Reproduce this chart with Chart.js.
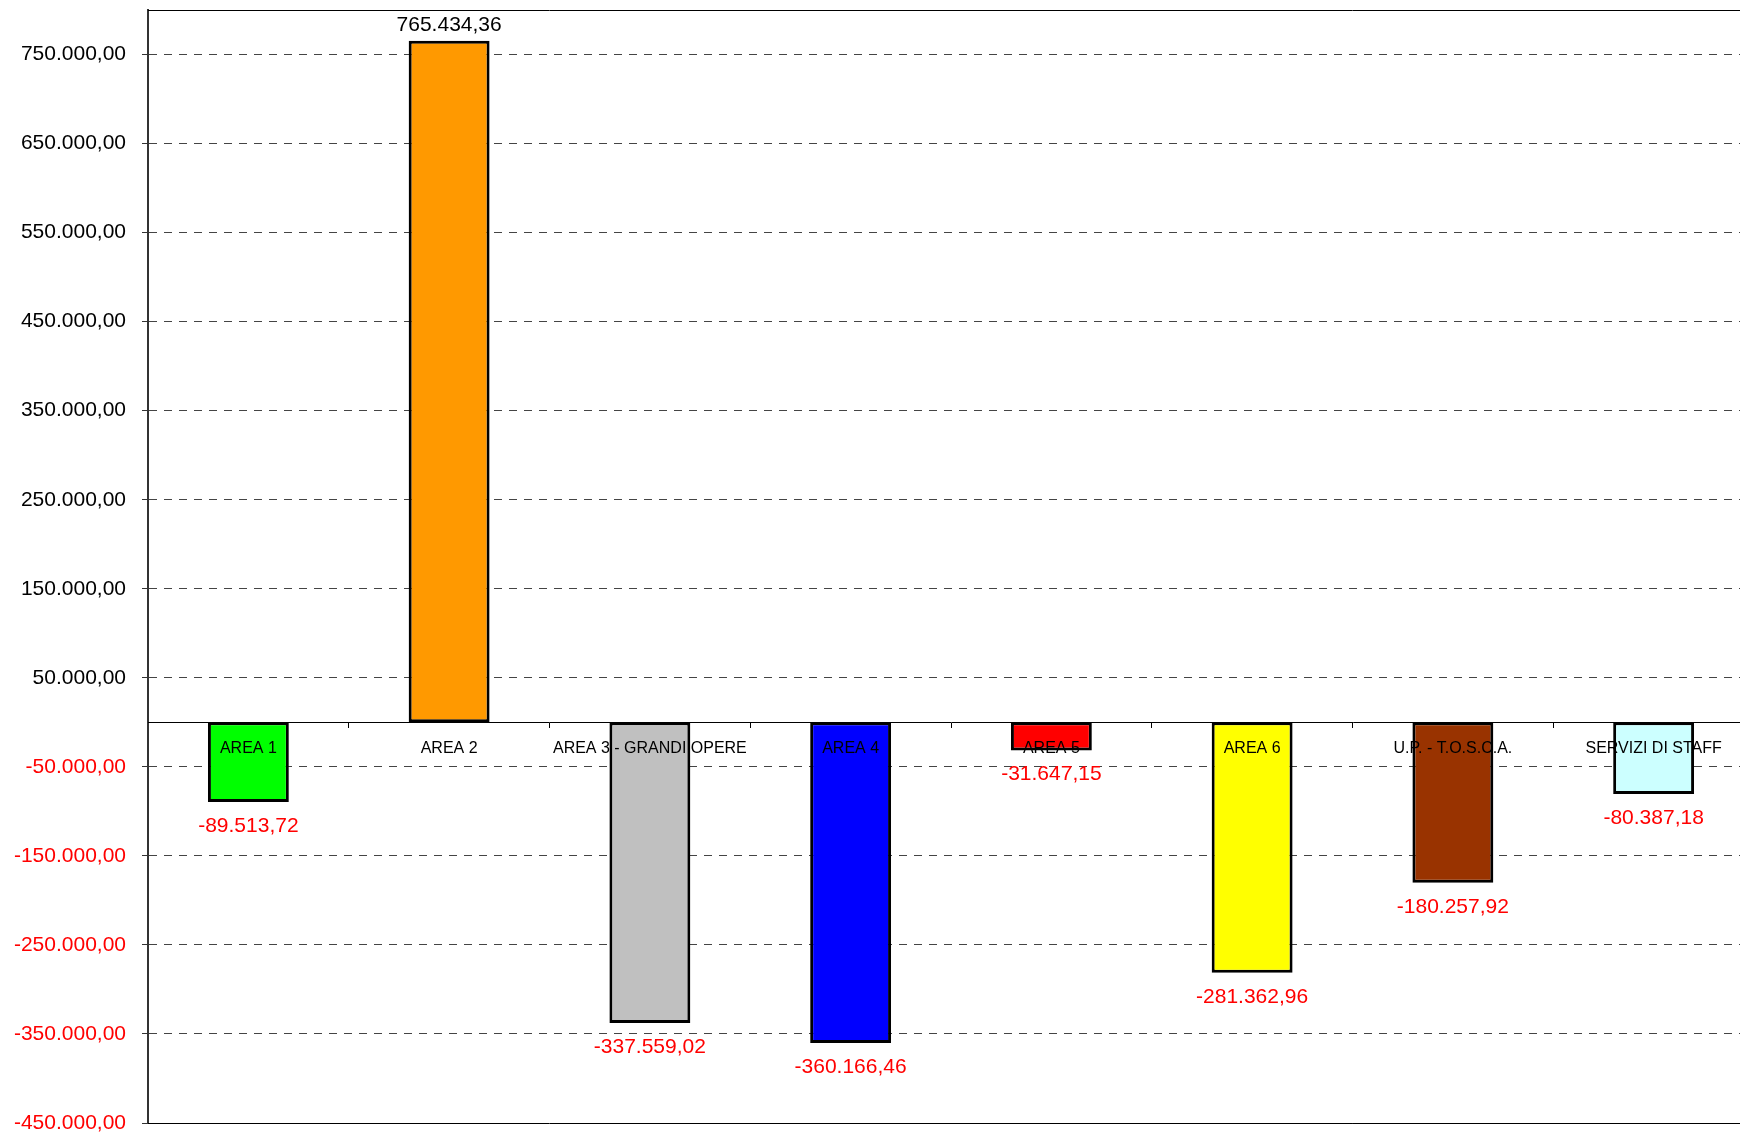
<!DOCTYPE html>
<html>
<head>
<meta charset="utf-8">
<title>Scostamenti per area</title>
<script src="https://cdn.jsdelivr.net/npm/chart.js@4/dist/chart.umd.min.js"></script>
<style>
    html, body { margin: 0; padding: 0; background: #fff; overflow: hidden; }
    #contenitore { width: 1754px; height: 1133px; }
</style>
</head>
<body>
<div id="contenitore"><canvas id="graficoAree" width="1754" height="1133"></canvas></div>
<script>
// dati
const categorie = ['AREA 1', 'AREA 2', 'AREA 3 - GRANDI OPERE', 'AREA 4', 'AREA 5', 'AREA 6', 'U.P. - T.O.S.C.A.', 'SERVIZI DI STAFF'];
const valori = [-89513.72, 765434.36, -337559.02, -360166.46, -31647.15, -281362.96, -180257.92, -80387.18];
const coloriBarre = ['#00ff00', '#ff9900', '#c0c0c0', '#0000ff', '#ff0000', '#ffff00', '#993300', '#ccffff'];
const tickAsseY = [750000, 650000, 550000, 450000, 350000, 250000, 150000, 50000, -50000, -150000, -250000, -350000, -450000];

const FONT = '"Liberation Sans", Arial, Helvetica, sans-serif';

// formato italiano: 765.434,36
function formatoIt(v) {
    const parti = Math.abs(v).toFixed(2).split('.');
    const intero = parti[0].replace(/\B(?=(\d{3})+(?!\d))/g, '.');
    return (v < 0 ? '-' : '') + intero + ',' + parti[1];
}

// cornice sopra e sotto l'area del grafico
const cornice = {
    id: 'cornice',
    beforeDatasetsDraw(chart) {
        const { ctx, chartArea } = chart;
        ctx.save();
        ctx.strokeStyle = '#000';
        ctx.lineWidth = 1;
        ctx.beginPath();
        ctx.moveTo(chartArea.left, Math.round(chartArea.top) + 0.5);
        ctx.lineTo(chartArea.right, Math.round(chartArea.top) + 0.5);
        ctx.moveTo(chartArea.left, Math.round(chartArea.bottom) + 0.5);
        ctx.lineTo(chartArea.right, Math.round(chartArea.bottom) + 0.5);
        ctx.stroke();
        ctx.restore();
    }
};

// etichette con i valori sopra / sotto le barre
const etichetteValori = {
    id: 'etichetteValori',
    afterDatasetsDraw(chart) {
        const { ctx } = chart;
        const meta = chart.getDatasetMeta(0);
        ctx.save();
        ctx.font = '21px ' + FONT;
        ctx.textAlign = 'center';
        ctx.textBaseline = 'middle';
        meta.data.forEach((barra, i) => {
            const v = valori[i];
            ctx.fillStyle = v < 0 ? '#ff0000' : '#000000';
            const y = v < 0 ? barra.y + 24 : barra.y - 16;
            ctx.fillText(formatoIt(v), barra.x, y);
        });
        ctx.restore();
    }
};

new Chart(document.getElementById('graficoAree'), {
    type: 'bar',
    data: {
        labels: categorie,
        datasets: [{
            data: valori,
            backgroundColor: coloriBarre,
            borderColor: '#000',
            borderWidth: 3,
            borderSkipped: false,
            barPercentage: 0.403,
            categoryPercentage: 1
        }]
    },
    options: {
        responsive: false,
        animation: false,
        layout: { padding: { top: 10, bottom: 10, left: 0, right: 0 } },
        plugins: {
            legend: { display: false },
            tooltip: { enabled: false }
        },
        scales: {
            x: {
                position: { y: 0 },
                grid: { drawOnChartArea: false, drawTicks: true, tickLength: 5, tickColor: '#000', offset: true },
                border: { display: true, color: '#000', width: 1, z: 1 },
                ticks: { z: 1, color: '#000', font: { size: 16, family: FONT }, padding: 12, maxRotation: 0, autoSkip: false }
            },
            y: {
                min: -450000,
                max: 800000,
                afterBuildTicks: (scala) => { scala.ticks = tickAsseY.map(v => ({ value: v })); },
                afterFit: (scala) => {
                    scala.width = 148;
                    scala.paddingTop = 0;
                    scala.paddingBottom = 0;
                },
                grid: { color: '#444', lineWidth: 1, tickLength: 6, tickColor: '#333', tickBorderDash: [] },
                border: { display: true, color: '#333', width: 2, dash: [8, 7] },
                ticks: {
                    color: (c) => (c.tick && c.tick.value < 0 ? '#ff0000' : '#000000'),
                    font: { size: 21, family: FONT },
                    padding: 16,
                    callback: (v) => formatoIt(v)
                }
            }
        }
    },
    plugins: [cornice, etichetteValori]
});
</script>
</body>
</html>
